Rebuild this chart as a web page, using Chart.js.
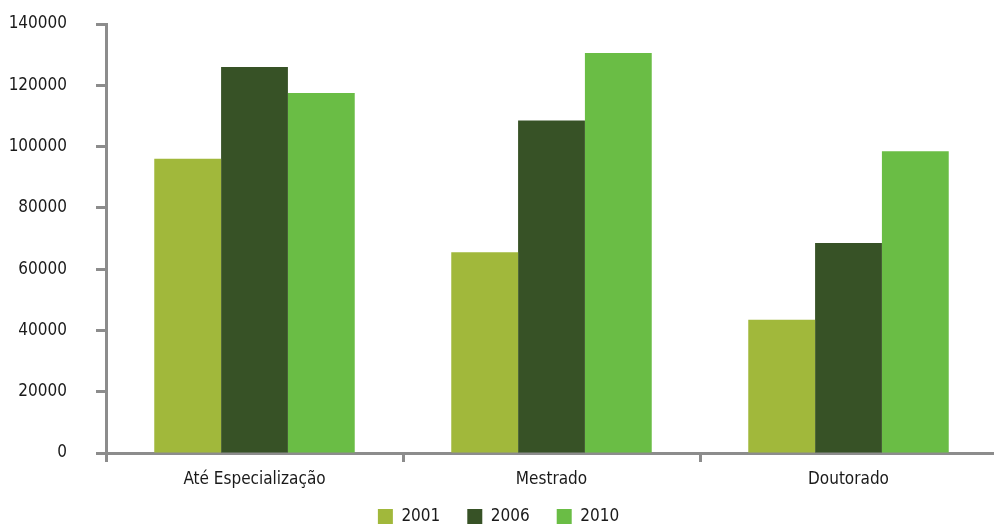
<!DOCTYPE html>
<html>
<head>
<meta charset="utf-8">
<script src="https://cdn.jsdelivr.net/npm/chart.js@4/dist/chart.umd.min.js"></script>
<style>
  html, body { margin: 0; padding: 0; background: #ffffff; overflow: hidden; }
  canvas { display: block; }
</style>
</head>
<body>
<canvas id="chart" width="997" height="535"></canvas>
<script>
// Titulação por nível de formação
const categories = ['Até Especialização', 'Mestrado', 'Doutorado'];
const years = ['2001', '2006', '2010'];
const values2001 = [96000, 65500, 43500];
const values2006 = [126000, 108500, 68500];
const values2010 = [117500, 130500, 98500];
const yTicks = [0, 20000, 40000, 60000, 80000, 100000, 120000, 140000];

const colors = ['#a1b83b', '#375226', '#6abd45'];
const axisGray = '#8c8c8c';
const textColor = '#1a1a1a';
const fontFamily = '"DejaVu Sans Condensed", "Liberation Sans Narrow", sans-serif';
const fontSize = 17;

const seriesValues = [values2001, values2006, values2010];

new Chart(document.getElementById('chart'), {
  type: 'bar',
  data: {
    labels: categories,
    datasets: years.map((y, i) => ({
      label: y,
      data: seriesValues[i],
      backgroundColor: colors[i],
      borderWidth: 0,
      categoryPercentage: 0.675,
      barPercentage: 1.0
    }))
  },
  options: {
    responsive: false,
    animation: false,
    layout: { padding: { top: 24, right: 0, left: 0, bottom: 0 } },
    plugins: {
      tooltip: { enabled: false },
      legend: {
        position: 'bottom',
        labels: {
          boxWidth: 15,
          boxHeight: 15,
          padding: 27,
          color: textColor,
          font: { family: fontFamily, size: fontSize }
        }
      }
    },
    scales: {
      x: {
        offset: true,
        grid: {
          offset: true,
          drawOnChartArea: false,
          drawTicks: true,
          tickLength: 9,
          tickWidth: 3,
          tickColor: axisGray
        },
        border: { display: true, color: axisGray, width: 3 },
        ticks: {
          color: textColor,
          padding: 7,
          font: { family: fontFamily, size: fontSize }
        },
        afterFit: (scale) => {
          // compact axis band; category labels may run into the legend gap
          scale.height = 28;
          scale._computeLabelArea = () => null;
        }
      },
      y: {
        min: 0,
        max: 140000,
        afterBuildTicks: (scale) => { scale.ticks = yTicks.map(v => ({ value: v })); },
        grid: {
          drawOnChartArea: false,
          drawTicks: true,
          tickLength: 10,
          tickWidth: 3,
          tickColor: axisGray
        },
        border: { display: true, color: axisGray, width: 3 },
        ticks: {
          color: textColor,
          padding: 29,
          font: { family: fontFamily, size: fontSize },
          callback: (v) => String(v)
        },
        afterFit: (scale) => {
          scale.width = 106;
          scale.paddingTop = 0;
          scale.paddingBottom = 0;
        }
      }
    }
  }
});
</script>
</body>
</html>
